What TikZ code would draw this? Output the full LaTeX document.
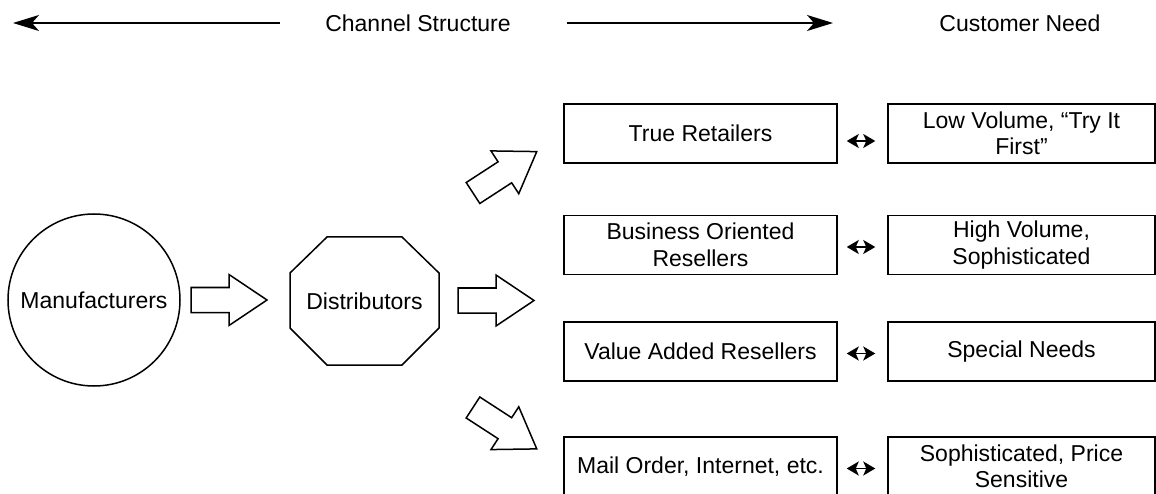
\documentclass[tikz,border=0pt]{standalone}
\usepackage{fontspec}
\setmainfont{Liberation Sans}
\usetikzlibrary{arrows.meta}
\begin{document}
\begin{tikzpicture}[x=1pt,y=-1pt,line join=miter,
  txt/.style={font=\fontsize{23}{26.5}\selectfont, align=center, inner sep=0pt},
  box/.style={draw, line width=1.5pt, minimum width=273pt, minimum height=59pt, txt},
  rbox/.style={box, minimum width=267pt},
  shapeline/.style={draw, line width=1.5pt},
  dbl/.style={{Stealth[length=12pt,width=14pt,inset=3pt]}-{Stealth[length=12pt,width=14pt,inset=3pt]}, line width=1.6pt},
  bigarrow/.style={-{Stealth[length=26pt,width=16pt,inset=7pt]}, line width=1.6pt},
  blockarrow/.pic={\draw[line width=1.5pt] (0,-12.5) -- (38,-12.5) -- (38,-25.5) -- (76,0) -- (38,25.5) -- (38,12.5) -- (0,12.5) -- cycle;}]
\useasboundingbox (0,0) rectangle (1156,494);
% header
\coordinate (ls) at (280,23);
\coordinate (le) at (13,23);
\coordinate (rs) at (567,23);
\coordinate (re) at (833,23);
\draw[bigarrow] (ls) -- (le);
\draw[bigarrow] (rs) -- (re);
\node[txt] (cs) at (418,23) {Channel Structure};
\node[txt] (cn) at (1020,23) {Customer Need};
% manufacturers
\node[shapeline, circle, minimum size=172pt, txt] (man) at (94,300) {Manufacturers};
% distributors octagon
\draw[shapeline] (327,237) -- (402,237) -- (439,273) -- (439,328) -- (402,365) -- (327,365) -- (290,328) -- (290,273) -- cycle;
\node[txt] (dist) at (364.5,301) {Distributors};
% block arrows
\pic at (191,300) {blockarrow};
\pic at (458,300.5) {blockarrow};
\pic[rotate=33] at (473,193) {blockarrow};
\pic[rotate=-33] at (473,407.5) {blockarrow};
% channel boxes
\node[box] (l1) at (700.5,133.5) {True Retailers};
\node[box] (l2) at (700.5,245) {Business Oriented\\Resellers};
\node[box] (l3) at (700.5,351.5) {Value Added Resellers};
\node[box] (l4) at (700.5,466.5) {Mail Order, Internet, etc.};
% need boxes
\node[rbox] (r1) at (1021.5,133.5) {Low Volume, “Try It\\First”};
\node[rbox] (r2) at (1021.5,245) {High Volume,\\Sophisticated};
\node[rbox] (r3) at (1021.5,351.5) {Special Needs};
\node[rbox] (r4) at (1021.5,466.5) {Sophisticated, Price\\Sensitive};
% double arrows
\draw[dbl] ([xshift=9pt,yshift=-7.5pt]l1.east) -- ([xshift=-12pt,yshift=-7.5pt]r1.west);
\draw[dbl] ([xshift=9pt,yshift=-2pt]l2.east) -- ([xshift=-12pt,yshift=-2pt]r2.west);
\draw[dbl] ([xshift=9pt,yshift=-2pt]l3.east) -- ([xshift=-12pt,yshift=-2pt]r3.west);
\draw[dbl] ([xshift=9pt,yshift=-2pt]l4.east) -- ([xshift=-12pt,yshift=-2pt]r4.west);
\end{tikzpicture}
\end{document}
